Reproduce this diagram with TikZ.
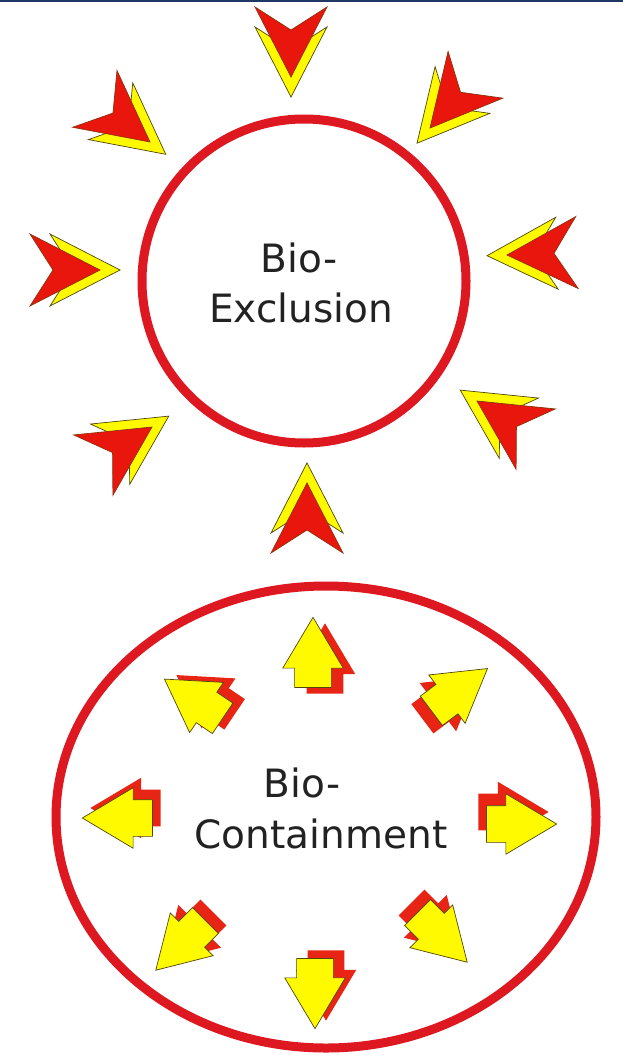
\documentclass[tikz,border=0pt]{standalone}
\usepackage{fontspec}
\setmainfont{DejaVu Sans}
\definecolor{ringred}{RGB}{222,24,32}
\definecolor{chevred}{RGB}{232,22,12}
\definecolor{shadred}{RGB}{232,36,20}
\definecolor{yel}{RGB}{255,250,0}
\definecolor{outl}{RGB}{80,70,10}
\definecolor{navy}{RGB}{30,55,100}
\definecolor{txt}{RGB}{34,34,34}
\tikzset{
  ring/.style={draw=ringred,line width=9pt},
  lbl/.style={font=\fontsize{39}{39}\selectfont,text=txt,anchor=base,inner sep=0pt},
  chev/.pic={
    \filldraw[fill=yel,draw=outl,line width=0.7pt,line join=miter] (20,0)--(-50,36)--(-27,0)--(-50,-36)--cycle;
    \filldraw[fill=chevred,draw=outl!60!chevred,line width=0.7pt,line join=miter] (0,0)--(-70,36)--(-47,0)--(-70,-36)--cycle;
  }
}
\newcommand\blk[5]{%
  \fill[shadred,shift={(#1+#4,#2+#5)},rotate=#3,scale=1.08]
    (33,0)--(-14,28)--(-14,17)--(-32,17)--(-32,-17)--(-14,-17)--(-14,-28)--cycle;
  \filldraw[fill=yel,draw=outl,line width=0.7pt,shift={(#1,#2)},rotate=#3,scale=1.08]
    (33,0)--(-14,28)--(-14,17)--(-32,17)--(-32,-17)--(-14,-17)--(-14,-28)--cycle;
}
\begin{document}
\begin{tikzpicture}[x=1pt,y=-1pt]
\useasboundingbox (0,0) rectangle (623,1057);
\fill[white] (0,0) rectangle (623,1057);
\fill[navy] (0,0) rectangle (623,2.5);
% top: bio-exclusion
\draw[ring] (304,281) circle[radius=162];
\node[lbl] (bio1) at (299,272) {Bio-};
\node[lbl] (excl) at (301,322) {Exclusion};
\pic (c1) [rotate=270] at (291,77) {chev};
\pic (c2) [rotate=229.5] at (430,128) {chev};
\pic (c3) [rotate=-38] at (150,142) {chev};
\pic (c4) [rotate=0] at (100,270) {chev};
\pic (c5) [rotate=182] at (507,255) {chev};
\pic (c6) [rotate=33] at (152,427) {chev};
\pic (c7) [rotate=147] at (477,401) {chev};
\pic (c8) [rotate=90] at (307,483) {chev};
% bottom: bio-containment
\draw[ring] (326,817) ellipse[x radius=270,y radius=231];
\node[lbl] (bio2) at (302,797) {Bio-};
\node[lbl] (cont) at (321,848) {Containment};
\blk{313}{653}{90}{12}{6}
\blk{459}{690}{37}{-9}{8}
\blk{194}{699}{146}{12}{-4}
\blk{118}{818}{180}{8}{-10}
\blk{521}{824}{0}{-8}{-12}
\blk{181}{945}{225}{8}{-8}
\blk{442}{937}{315}{-6}{-10}
\blk{315}{993}{270}{11}{-8}
\end{tikzpicture}
\end{document}
